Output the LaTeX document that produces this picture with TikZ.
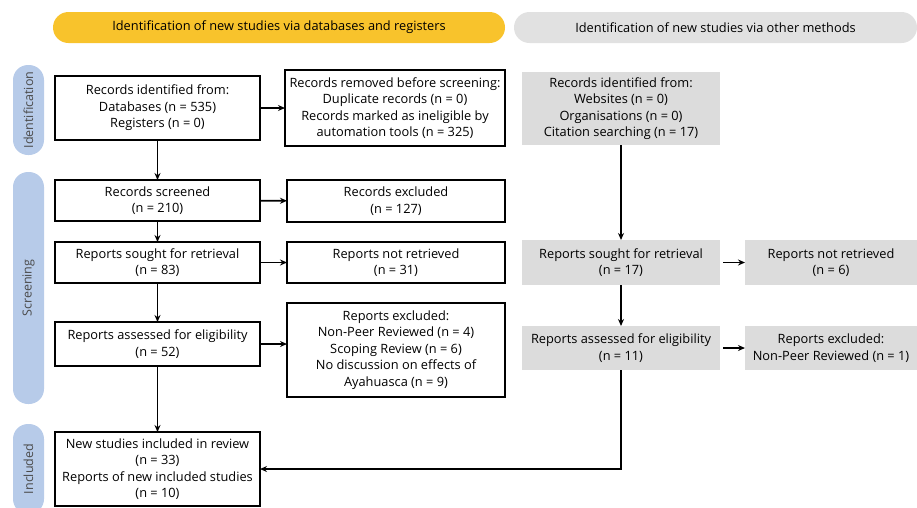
\documentclass[tikz,border=0pt]{standalone}
\usepackage{fontspec}
\setmainfont{Open Sans}
\usepackage{xcolor}
\usepackage{tikz}
\usetikzlibrary{shapes,arrows,positioning,calc,arrows.meta}

\definecolor{bannerYellow}{HTML}{F8C32C}
\definecolor{bannerGray}{HTML}{E1E1E1}
\definecolor{boxGray}{HTML}{DCDCDC}
\definecolor{phaseBlue}{HTML}{B7CBE9}
\definecolor{phaseText}{HTML}{4A4A4A}

\begin{document}
\begin{tikzpicture}[x=1pt, y=-1pt, outer sep=0pt,
    every node/.style={font=\fontsize{12.8}{16.5}\selectfont, align=center, inner sep=1pt},
    box/.style={draw, line width=1.8pt, minimum width=205pt},
    sidebox/.style={draw, line width=1.8pt, minimum width=218pt},
    graybox/.style={fill=boxGray, minimum width=198pt},
    grayside/.style={fill=boxGray, minimum width=172pt},
    banner/.style={rounded corners=15.5pt, minimum height=31pt},
    phase/.style={fill=phaseBlue, rounded corners=15pt, minimum height=31pt, rotate=90,
                  text=phaseText, font=\fontsize{12.5}{14}\selectfont},
    arr/.style={-{Stealth[length=7pt,width=6pt]}, line width=1.6pt}]
    \useasboundingbox (0,0) rectangle (917,507);

    % banners
    \node [banner, fill=bannerYellow, minimum width=452pt] (dbhead) at (279,27.5) {Identification of new studies via databases and registers};
    \node [banner, fill=bannerGray, minimum width=403pt] (othhead) at (715.5,27.5) {Identification of new studies via other methods};

    % phases
    \node [phase, minimum width=90pt] (idphase) at (28.5,110) {Identification};
    \node [phase, minimum width=232pt] (scphase) at (28.5,288) {Screening};
    \node [phase, minimum width=90pt] (inphase) at (28.5,469) {Included};

    % databases and registers
    \node [box, minimum height=64pt] (ident) at (157.5,108) {Records identified from:\\Databases (n = 535)\\Registers (n = 0)};
    \node [draw, line width=1.8pt, minimum width=220pt, minimum height=76pt] (removed) at (395,108) {Records removed before screening:\\Duplicate records (n = 0)\\Records marked as ineligible by\\automation tools (n = 325)};
    \node [box, minimum height=41pt] (screened) at (157.5,200.5) {Records screened\\(n = 210)};
    \node [sidebox, minimum height=42pt] (excluded) at (396,201) {Records excluded\\(n = 127)};
    \node [box, minimum height=41pt] (sought) at (157.5,262.5) {Reports sought for retrieval\\(n = 83)};
    \node [sidebox, minimum height=41pt] (notret) at (396,262.5) {Reports not retrieved\\(n = 31)};
    \node [box, minimum height=44pt] (assessed) at (157.5,344) {Reports assessed for eligibility\\(n = 52)};
    \node [sidebox, minimum height=94pt] (repexcl) at (396,350) {Reports excluded:\\Non-Peer Reviewed (n = 4)\\Scoping Review (n = 6)\\No discussion on effects of\\Ayahuasca (n = 9)};
    \node [box, minimum height=74pt] (included) at (157.5,469) {New studies included in review\\(n = 33)\\Reports of new included studies\\(n = 10)};

    % other methods
    \node [graybox, minimum height=73pt] (othident) at (621,108.5) {Records identified from:\\Websites (n = 0)\\Organisations (n = 0)\\Citation searching (n = 17)};
    \node [graybox, minimum height=45pt] (othsought) at (621,262.5) {Reports sought for retrieval\\(n = 17)};
    \node [grayside, minimum height=45pt] (othnotret) at (831,262.5) {Reports not retrieved\\(n = 6)};
    \node [graybox, minimum height=44pt] (othassessed) at (621,348) {Reports assessed for eligibility\\(n = 11)};
    \node [grayside, minimum height=44pt] (othexcl) at (831,348) {Reports excluded:\\Non-Peer Reviewed (n = 1)};

    \draw [arr] (ident) -- (screened);
    \draw [arr] (screened) -- (sought);
    \draw [arr] (sought) -- (assessed);
    \draw [arr] (assessed) -- (included);
    \draw [arr] (ident) -- (removed);
    \draw [arr] (screened) -- (excluded);
    \draw [arr] (sought) -- (notret);
    \draw [arr] (assessed.east) -- (assessed.east -| repexcl.west);

    \draw [arr] (othident) -- (othsought);
    \draw [arr] (othsought) -- (othassessed);
    \draw [arr, shorten <=3pt] (othsought) -- (othnotret);
    \draw [arr, shorten <=3pt] (othassessed) -- (othexcl);
    \draw [arr] (othassessed.south) |- (included.east);
\end{tikzpicture}
\end{document}
